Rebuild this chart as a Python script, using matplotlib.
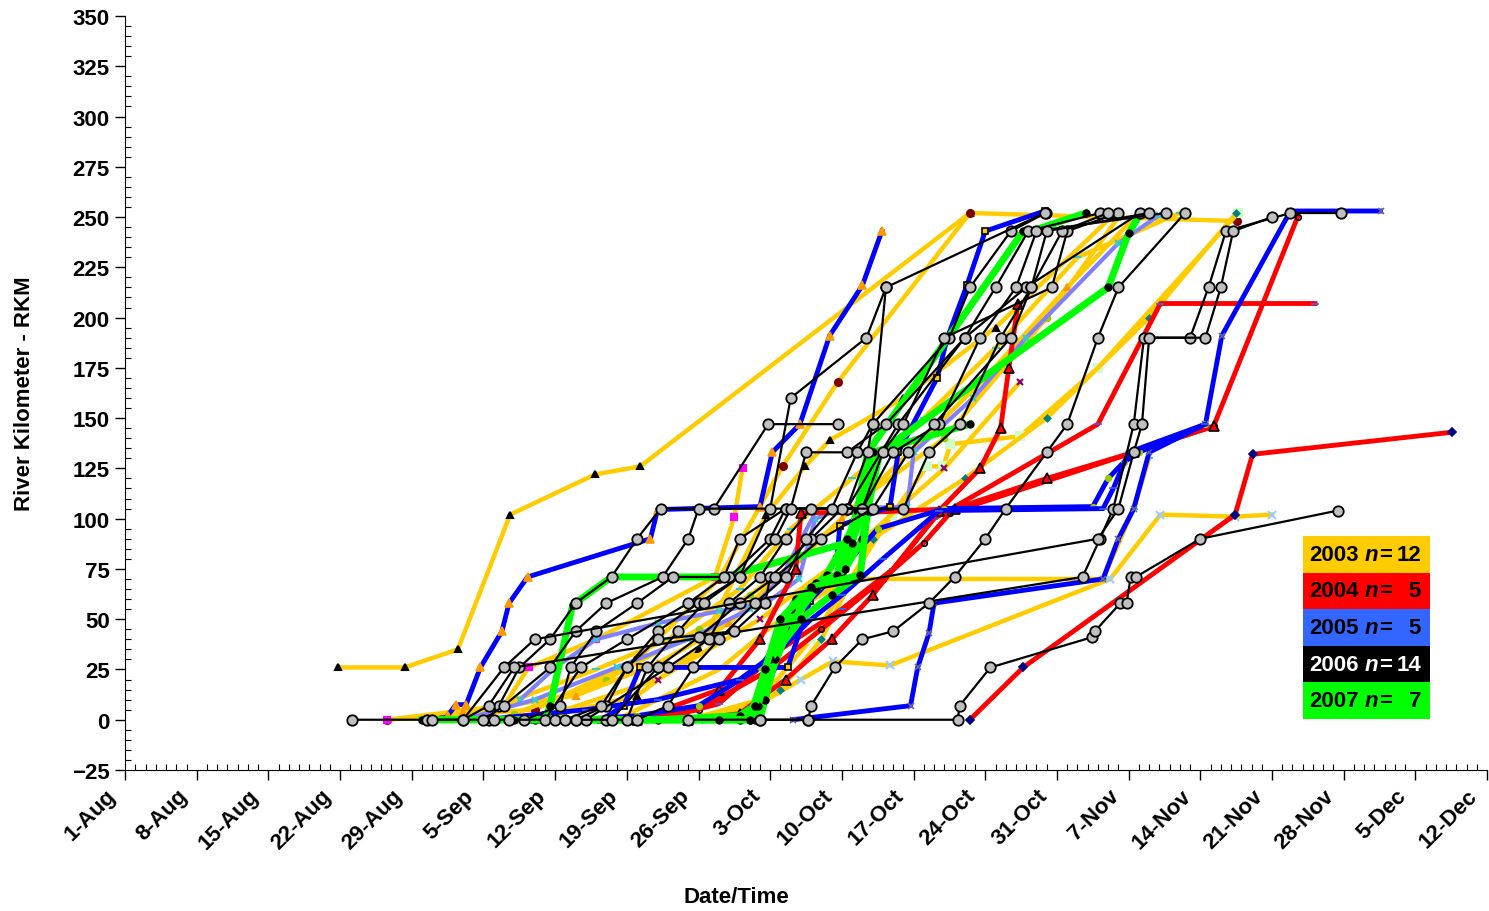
import matplotlib.pyplot as plt
from matplotlib.patches import Rectangle
from matplotlib.ticker import MultipleLocator
from matplotlib.transforms import ScaledTranslation

# days counted from 1-Aug, position in river kilometres
yr2003_days = [
    [20.8, 27.3, 32.5, 37.6, 45.9, 50.3, 82.5],
    [25.6, 31, 40, 50, 58, 64.2, 69.6, 82.5, 108.6],
    [25.6, 37, 39.4, 46, 57.6, 59.5, 60.3],
    [40, 50, 56, 62.6, 66.4, 68.8, 76, 85, 96.5],
    [56, 61.7, 66, 69.1, 74.7, 96.2, 101.1, 108.4, 112],
    [55, 62, 67, 74.9, 78.3, 79.9, 80.6, 87.4, 95, 108.7],
    [40, 52, 62, 70, 75.5, 80, 87.4],
    [48, 58, 64, 70.5, 95.5, 98.5, 100],
    [60, 64, 68, 73, 82, 90, 100, 108.5],
    [38, 47, 56, 61, 66, 72, 80, 90, 97],
    [33, 44, 52, 59, 64, 70, 77, 84, 92, 99],
    [36, 46, 53, 60, 65, 71, 78, 85, 93, 103],
]
yr2003_rkm = [
    [26, 26, 35, 102, 122, 126, 252],
    [0, 2, 5, 30, 70, 126, 168, 252, 248],
    [0, 7, 26, 40, 71, 101, 125],
    [0, 12, 35, 102, 126, 139, 160, 195, 251],
    [0, 7, 20, 29, 27, 70, 102, 101, 102],
    [0, 10, 40, 102, 126, 126, 137, 141, 175, 252],
    [0, 20, 50, 80, 105, 125, 168],
    [0, 25, 50, 70, 70, 105, 130],
    [0, 15, 40, 90, 120, 150, 200, 252],
    [3, 20, 45, 62, 80, 110, 140, 200, 250],
    [4, 12, 28, 48, 72, 100, 135, 170, 215, 252],
    [6, 25, 40, 65, 95, 120, 150, 185, 230, 252],
]

yr2004_days = [
    [82.5, 87.7, 108.4, 110.1, 129.6],
    [50, 56, 63, 68, 74, 78, 80.6, 106.3, 114.5],
    [52, 58, 64, 70, 75, 79, 95, 101.1, 116.2],
    [55, 60, 64.5, 69, 73, 79.5, 83.5, 85.5, 86.3, 87.2],
    [50, 58, 62, 65.5, 66, 72, 81, 90, 98.5, 106.3],
]
yr2004_rkm = [
    [0, 26, 102, 132, 143],
    [0, 5, 25, 45, 70, 88, 103, 146, 250],
    [0, 8, 35, 55, 75, 100, 147, 207, 207],
    [0, 3, 20, 40, 62, 104, 125, 145, 175, 207],
    [0, 15, 40, 75, 103, 103, 105, 120, 133, 146],
]

yr2005_days = [
    [31.5, 32.3, 33.3, 34.7, 36.8, 37.5, 39.3, 51.3, 52, 62, 63.2, 65.9, 68.8, 72, 73.9],
    [46.5, 48.7, 50.3, 64.7, 66.9, 69.5, 69.8, 74.7, 75.5, 79.3, 80.3, 82.2, 84, 89.8],
    [65.2, 76.7, 77.4, 78.5, 79, 95.5, 97, 98.5, 100, 105.5, 107.1, 113.8, 122.6],
    [44, 50, 56, 62, 66, 70, 73.5, 80, 94.5, 96, 97.5, 99, 105.5],
    [35, 45, 52, 60, 64, 67, 70, 74, 79.5, 95.5, 96.5, 98, 105.5],
]
yr2005_rkm = [
    [2, 7.5, 7.5, 26, 44, 58, 71, 90, 104.5, 106, 133, 147, 191, 216, 243],
    [0, 7, 26, 26, 59, 80, 96.5, 106, 133, 170, 190, 216, 243, 253],
    [0, 7, 26, 43, 58, 70, 90, 105, 133, 147, 191, 253, 253],
    [0, 2, 7, 26, 55, 75, 95, 105, 106, 120, 128, 133, 147],
    [0, 5, 10, 20, 35, 50, 62, 80, 104, 105, 115, 133, 147],
]

yr2006_days = [
    [22.2, 29.5, 35.5, 36.5, 38.5, 41.5, 44, 47.5, 50, 52.3, 57.5, 62.8, 69.6],
    [35, 37, 41.5, 44, 47, 52.5, 55, 56, 70.5, 72.5, 73, 80.5, 82.5, 86.5, 89.9],
    [36, 39, 42.5, 43.5, 46, 50, 53.5, 59, 63, 64.5, 70.5, 75.5, 82, 88, 99.1],
    [37.5, 41, 44.5, 49, 55, 58.5, 60, 64.5, 72, 74, 76, 80, 90.5, 92, 97],
    [33, 35.5, 38, 93.5, 95.2, 96.5, 98.5, 99.5, 104, 105.8, 107.5, 113.8, 118.7],
    [62, 66.7, 81.3, 81.5, 84.5, 94.4, 94.7, 97.2, 97.8, 98.2, 98.7, 105, 118.4],
    [55, 62, 66.7, 67, 69.3, 72, 75, 78.5, 81, 84, 86, 90, 92, 95, 97, 103.5],
    [44, 47, 49, 52, 56, 60, 63, 65, 72.4, 74.3, 89.8],
    [47, 49, 51, 54, 56.5, 60, 63.5, 65, 66.5, 70.5, 74.3, 82, 85, 88.2, 95.2],
    [42, 45, 53, 57, 59, 62, 64.5, 67, 72, 75, 79.5, 83.5, 87, 89, 101.6],
    [43, 46.5, 49, 52, 59.5, 62.5, 63, 67, 70, 76, 78.5, 81.5, 85.5, 88.5, 91.5, 96],
    [44, 47.5, 52, 56, 60, 63.5, 68, 73, 76.5, 79, 86.5, 88.5, 90, 100],
    [30, 33, 37, 40, 95, 97, 98.5, 99.3, 100, 105.5, 107, 108.2, 112],
    [50, 53, 55.5, 58, 61.5, 64.5, 66.5, 69, 71.5, 73, 74.3],
]
yr2006_rkm = [
    [0, 0, 0, 7, 26, 40, 58, 71, 90, 105, 105, 147, 147],
    [0, 7, 26, 44, 58, 71, 90, 105, 105, 133, 147, 190, 215, 243, 252],
    [0, 0, 7, 26, 44, 58, 71, 71, 90, 105, 105, 147, 190, 215, 252],
    [0, 0, 26, 40, 58, 71, 90, 105, 105, 133, 147, 190, 215, 243, 252],
    [0, 7, 26, 71, 90, 105, 147, 190, 190, 215, 243, 252, 252],
    [0, 0, 0, 7, 26, 41, 44, 58, 58, 71, 71, 90, 104],
    [0, 0, 0, 7, 26, 40, 44, 58, 71, 90, 105, 133, 147, 190, 215, 252],
    [0, 7, 26, 44, 58, 71, 105, 160, 190, 215, 252],
    [0, 0, 26, 44, 58, 71, 90, 105, 133, 133, 147, 190, 215, 243, 252],
    [0, 0, 26, 40, 58, 71, 90, 105, 105, 133, 147, 190, 215, 243, 252],
    [0, 7, 26, 40, 44, 58, 71, 90, 105, 105, 133, 147, 190, 215, 243, 252],
    [0, 0, 26, 41, 58, 71, 90, 105, 133, 147, 190, 215, 243, 252],
    [0, 0, 26, 40, 90, 105, 133, 147, 190, 190, 215, 243, 250],
    [0, 7, 26, 40, 58, 71, 90, 105, 133, 147, 215],
]

yr2007_days = [
    [29, 41, 41.5, 43.7, 47.5, 58.5, 70.5, 71.5, 72.5, 87.7, 88.5, 93.8],
    [40, 60, 61, 63.5, 65.5, 70, 72, 72.5, 73.7, 96, 98, 99.2],
    [45, 62, 63.2, 66, 68.5, 72, 73, 82.5],
    [35, 55, 61.5, 62.5, 64.5, 67.5, 70.3, 71, 72],
    [30, 52, 60, 62.5, 63.5, 65, 67.5, 69.5, 70.5],
    [38, 61, 61.8, 63, 66, 69, 71.2],
    [42, 58, 61, 61.5, 62.5, 64, 67, 71.8, 72.5],
]
yr2007_rkm = [
    [0, 0, 7, 57, 71, 71, 88, 104, 133, 243, 243, 252],
    [0, 0, 1, 40, 60, 72, 90, 104, 133, 215, 242, 252],
    [0, 0, 25, 60, 72, 104, 133, 147],
    [0, 0, 0, 20, 45, 65, 75, 88, 104],
    [0, 0, 2, 10, 30, 55, 68, 72, 90],
    [0, 0, 7, 30, 50, 62, 70],
    [0, 0, 0, 7, 25, 50, 66, 72, 104],
]

# extra tracks drawn in a pale blue
pale_days = [
    [38.6, 42, 46, 52, 58, 62.6, 65.8, 67.4, 70, 76.4, 77, 82.8, 88, 97, 101],
    [33, 40, 48, 55, 61, 64, 67.5],
]
pale_rkm = [
    [10, 26, 40, 48, 54, 58, 70, 100, 105, 106, 133, 160, 190, 237, 251],
    [0, 10, 26, 40, 55, 70, 104],
]

date_ticks = list(range(0, 134, 7))
date_labels = ['1-Aug', '8-Aug', '15-Aug', '22-Aug', '29-Aug', '5-Sep', '12-Sep',
               '19-Sep', '26-Sep', '3-Oct', '10-Oct', '17-Oct', '24-Oct', '31-Oct',
               '7-Nov', '14-Nov', '21-Nov', '28-Nov', '5-Dec', '12-Dec']

legend_years = ['2003', '2004', '2005', '2006', '2007']
legend_counts = ['12', '5', '5', '14', '7']
legend_colors = ['#FFCC00', '#FF0000', '#3366FF', '#000000', '#00FF00']

plt.rcParams['font.family'] = ['Liberation Sans', 'DejaVu Sans']

fig = plt.figure(figsize=(14.89, 9.12), dpi=100)
ax = fig.add_axes([0.084, 0.1546, 0.9147, 0.8268])

# per-track marker styles (marker, face, edge, size)
marks_2003 = [('^', 'black', 'black', 5), ('o', '#800000', '#800000', 5), ('s', '#FF00FF', '#FF00FF', 5),
              ('^', 'black', 'black', 5), ('x', '#99CCFF', '#99CCFF', 6), ('s', '#CCFFCC', '#CCFFCC', 6),
              ('x', '#800080', '#800080', 5), ('_', '#33CCCC', '#33CCCC', 6), ('D', '#008080', '#008080', 3),
              ('o', '#99CC00', '#99CC00', 4), ('^', '#FF9900', '#FF9900', 4), ('_', '#33CCCC', '#33CCCC', 6)]
for d, r, m in zip(yr2003_days, yr2003_rkm, marks_2003):
    ax.plot(d, r, color='#FFCC00', lw=3.2, marker=m[0], mfc=m[1], mec=m[2], ms=m[3], mew=1.5, zorder=2)

for d, r in zip(pale_days, pale_rkm):
    ax.plot(d, r, color='#8080FF', lw=3, marker='x', mfc='#33CCCC', mec='#33CCCC', ms=5, mew=1.5, zorder=2)

marks_2004 = [('D', '#000080', '#000080', 4), ('o', 'none', 'black', 4), ('_', '#3366FF', '#3366FF', 6),
              ('^', '#FF0000', 'black', 7), ('^', '#FF0000', 'black', 7)]
for d, r, m in zip(yr2004_days, yr2004_rkm, marks_2004):
    ax.plot(d, r, color='#FF0000', lw=3.5, marker=m[0], mfc=m[1], mec=m[2], ms=m[3], mew=1.2, zorder=3)

marks_2005 = [('^', '#FF9900', '#FF9900', 6), ('s', '#FFCC00', 'black', 5), ('x', '#666699', '#666699', 5),
              ('o', '#99CC00', '#99CC00', 4), ('_', '#3366FF', '#3366FF', 6)]
for d, r, m in zip(yr2005_days, yr2005_rkm, marks_2005):
    ax.plot(d, r, color='#0000FF', lw=3.5, marker=m[0], mfc=m[1], mec=m[2], ms=m[3], mew=1.2, zorder=4)

for d, r in zip(yr2007_days, yr2007_rkm):
    ax.plot(d, r, color='#00FF00', lw=5, marker='o', mfc='black', mec='black', ms=5, zorder=5)

for d, r in zip(yr2006_days, yr2006_rkm):
    ax.plot(d, r, color='black', lw=1.6, marker='o', mfc='#C0C0C0', mec='black', ms=7.5, mew=1.3, zorder=6)

ax.set_xlim(0, 133)
ax.set_ylim(-25, 350)
ax.set_xticks(date_ticks)
ax.set_xticklabels([])
# slanted date labels, set a little left of and below each tick
lab_trans = ax.get_xaxis_transform() + ScaledTranslation(-0.2, -0.15, fig.dpi_scale_trans)
for x, lab in zip(date_ticks, date_labels):
    ax.text(x, 0, lab, transform=lab_trans, rotation=45, rotation_mode='anchor',
            ha='right', va='top', fontsize=16, fontweight='bold')
ax.xaxis.set_minor_locator(MultipleLocator(1))
ax.yaxis.set_major_locator(MultipleLocator(25))
ax.yaxis.set_minor_locator(MultipleLocator(5))
for lab in ax.get_yticklabels():
    lab.set_fontsize(16)
    lab.set_fontweight('bold')
ax.tick_params(which='major', direction='out', length=7, width=1, pad=4)
ax.tick_params(which='minor', direction='in', length=4, width=0.8)
ax.spines['top'].set_visible(False)
ax.spines['right'].set_visible(False)

ax.set_xlabel('Date/Time', fontsize=16, fontweight='bold', va='center')
ax.xaxis.set_label_coords(0.449, -0.168)
ax.set_ylabel('River Kilometer - RKM', fontsize=16, fontweight='bold', va='center')
ax.yaxis.set_label_coords(-0.074, 0.501)

# year key boxes
box_left = 1303 / 1489
box_w = 127 / 1489
row_h = 36.6 / 912
top = 1 - 537 / 912
for i in range(5):
    y0 = top - (i + 1) * row_h
    fig.add_artist(Rectangle((box_left, y0), box_w, row_h, transform=fig.transFigure,
                             facecolor=legend_colors[i], edgecolor='none', zorder=10))
    tc = 'white' if legend_colors[i] == '#000000' else 'black'
    yc = y0 + row_h / 2
    fig.text(1309 / 1489, yc, legend_years[i], color=tc, fontsize=16, fontweight='bold',
             va='center', ha='left', zorder=11)
    fig.text(1365 / 1489, yc, 'n', color=tc, fontsize=16, fontweight='bold', style='italic',
             va='center', ha='left', zorder=11)
    fig.text(1379 / 1489, yc, '=', color=tc, fontsize=16, fontweight='bold',
             va='center', ha='left', zorder=11)
    fig.text(1421 / 1489, yc, legend_counts[i], color=tc, fontsize=16, fontweight='bold',
             va='center', ha='right', zorder=11)

fig.savefig('out.png', dpi=100)
